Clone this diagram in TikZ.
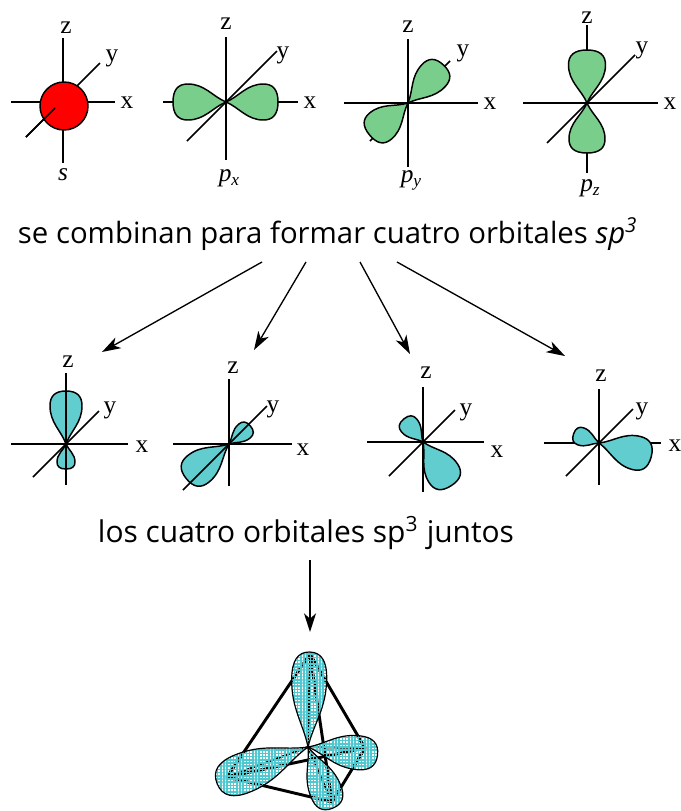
\documentclass[tikz,border=0pt]{standalone}
\usepackage{fontspec}
\usepackage{graphicx}
\setmainfont{Open Sans}
\newfontfamily\tnr{Liberation Serif}
\usetikzlibrary{arrows.meta,patterns.meta}

\definecolor{sred}{RGB}{255,0,0}
\definecolor{pgreen}{RGB}{122,206,140}
\definecolor{hcyan}{RGB}{98,205,207}
\definecolor{hatchcyan}{RGB}{80,200,208}

% one orbital lobe: style, origin x, origin y, direction angle (clockwise, y down), length, half width
\newcommand\orblobe[6]{%
  \filldraw[#1, shift={(#2,#3)}, rotate=-#4, xscale=#5, yscale=#6]
    (0,0) .. controls (0.25,0.3) and (0.4,1) .. (0.72,1)
          .. controls (0.9,1) and (1,0.7) .. (1,0)
          .. controls (1,-0.7) and (0.9,-1) .. (0.72,-1)
          .. controls (0.4,-1) and (0.25,-0.3) .. (0,0) -- cycle;}

\newcommand\subx[1]{\raisebox{-0.35ex}{\fontsize{13}{14}\selectfont #1}}

\begin{document}
\begin{tikzpicture}[x=0.75pt,y=-0.75pt,
  axis/.style={line width=1.1pt},
  lbl/.style={font=\tnr\fontsize{19}{20}\selectfont, inner sep=0pt},
  plobe/.style={fill=pgreen, draw=black, line width=1.1pt},
  hlobe/.style={fill=hcyan, draw=black, line width=1.1pt},
  tlobe/.style={
    preaction={pattern={Lines[angle=0,distance=2.4pt,line width=1.1pt]}, pattern color=hatchcyan},
    pattern={Lines[angle=90,distance=2.4pt,line width=1.1pt]}, pattern color=hatchcyan,
    draw=black, line width=0.9pt},
  tedge/.style={line width=2.2pt},
  tbond/.style={line width=1.5pt},
  flow/.style={line width=1pt, -{Stealth[length=14pt,width=9pt,inset=4pt]}},
  caption/.style={inner sep=0pt}]
\useasboundingbox (0,0) rectangle (681,811);

% ---------- s orbital ----------
\draw[axis] (63,38) -- (63,163);
\draw[axis] (11,102) -- (115,102);
\draw[axis] (26,137) -- (100,63);
\filldraw[fill=sred, line width=1.1pt] (64,106) circle (24);
\draw[axis] (26,137) -- (55,108);
\node[lbl] (sz) at (66,28) {z};
\node[lbl] (sy) at (112,58) {y};
\node[lbl] (sx) at (127,103) {x};
\node[lbl] (sname) at (63,175) {\itshape s};

% ---------- p_x orbital ----------
\draw[axis] (226,37) -- (226,160);
\draw[axis] (163,102) -- (298,102);
\orblobe{plobe}{226}{102}{0}{52}{18}
\orblobe{plobe}{226}{102}{180}{53}{18}
\draw[axis] (187,141) -- (277,51);
\node[lbl] (pxz) at (226,24) {z};
\node[lbl] (pxy) at (283,55) {y};
\node[lbl] (pxx) at (310,103) {x};
\node[lbl] (pxname) at (229,178) {\itshape p\subx{x}};

% ---------- p_y orbital ----------
\draw[axis] (408,39) -- (408,167);
\draw[axis] (344,103) -- (478,103);
\draw[axis] (370,141) -- (450,61);
\orblobe{plobe}{408}{103}{-47}{52}{16}
\orblobe{plobe}{408}{103}{140}{50}{17}
\node[lbl] (pyz) at (408,27) {z};
\node[lbl] (pyy) at (463,53) {y};
\node[lbl] (pyx) at (490,104) {x};
\node[lbl] (pyname) at (411,180) {\itshape p\subx{y}};

% ---------- p_z orbital ----------
\draw[axis] (587,25) -- (587,173);
\draw[axis] (523,103) -- (658,103);
\orblobe{plobe}{587}{103}{-90}{53}{18.5}
\orblobe{plobe}{587}{103}{90}{50}{18}
\draw[axis] (547,143) -- (635,55);
\node[lbl] (pzz) at (587,18) {z};
\node[lbl] (pzy) at (642,50) {y};
\node[lbl] (pzx) at (670,104) {x};
\node[lbl] (pzname) at (590,188) {\itshape p\subx{z}};

% ---------- caption and splitting arrows ----------
\node[caption] (combine) at (328,234)
  {\resizebox{465pt}{!}{se combinan para formar cuatro orbitales \textit{sp\textsuperscript{3}}}};
\coordinate (s1) at (262,262); \coordinate (e1) at (102,352);
\coordinate (s2) at (306,262); \coordinate (e2) at (254,350);
\coordinate (s3) at (360,262); \coordinate (e3) at (410,354);
\coordinate (s4) at (397,262); \coordinate (e4) at (565,356);
\draw[flow] (s1) -- (e1);
\draw[flow] (s2) -- (e2);
\draw[flow] (s3) -- (e3);
\draw[flow] (s4) -- (e4);

% ---------- sp3 hybrid 1 ----------
\orblobe{hlobe}{66}{444}{-90}{53}{16}
\orblobe{hlobe}{66}{444}{90}{25}{9}
\draw[axis] (66,373) -- (66,485);
\draw[axis] (11,444) -- (128,444);
\draw[axis] (33,477) -- (99,411);
\node[lbl] (h1z) at (68,362) {z};
\node[lbl] (h1y) at (110,410) {y};
\node[lbl] (h1x) at (142,447) {x};

% ---------- sp3 hybrid 2 ----------
\orblobe{hlobe}{229}{444}{-40}{28}{9}
\orblobe{hlobe}{229}{444}{141}{55}{17}
\draw[axis] (229,379) -- (229,486);
\draw[axis] (173,444) -- (292,444);
\draw[axis] (183,490) -- (267,406);
\node[lbl] (h2z) at (233,368) {z};
\node[lbl] (h2y) at (273,409) {y};
\node[lbl] (h2x) at (303,450) {x};

% ---------- sp3 hybrid 3 ----------
\draw[axis] (423,387) -- (423,492);
\draw[axis] (367,442) -- (484,442);
\draw[axis] (389,476) -- (455,410);
\orblobe{hlobe}{423}{442}{-130}{30}{10}
\orblobe{hlobe}{423}{442}{57}{52}{17}
\node[lbl] (h3z) at (426,373) {z};
\node[lbl] (h3y) at (466,412) {y};
\node[lbl] (h3x) at (497,452) {x};

% ---------- sp3 hybrid 4 ----------
\draw[axis] (599,389) -- (599,485);
\draw[axis] (544,443) -- (661,443);
\draw[axis] (566,476) -- (633,409);
\orblobe{hlobe}{599}{443}{-160}{27}{9}
\orblobe{hlobe}{599}{443}{15}{54}{17}
\node[lbl] (h4z) at (601,376) {z};
\node[lbl] (h4y) at (642,411) {y};
\node[lbl] (h4x) at (675,446) {x};

% ---------- second caption ----------
\node[caption] (together) at (306,533)
  {\resizebox{312pt}{!}{los cuatro orbitales sp\textsuperscript{3} juntos}};
\coordinate (s5) at (310,560); \coordinate (e5) at (310,632);
\draw[flow] (s5) -- (e5);

% ---------- tetrahedron with the four hybrids ----------
\coordinate (T) at (310,654);
\coordinate (L) at (227,777);
\coordinate (R) at (365,748);
\coordinate (B) at (332,802);
\coordinate (C) at (308,747);
\draw[tedge, line join=round] (T) -- (L) -- (B) -- (R) -- cycle;
\draw[tedge] (L) -- (R);
\draw[tedge] (T) -- (B);
\draw[tbond] (C) -- (T);
\draw[tbond] (C) -- (L);
\draw[tbond] (C) -- (R);
\draw[tbond] (C) -- (B);
\orblobe{tlobe}{308}{747}{-89}{95}{17.5}
\orblobe{tlobe}{308}{747}{158}{98}{20}
\orblobe{tlobe}{308}{747}{6.5}{70}{17}
\orblobe{tlobe}{308}{747}{68}{66}{16}
\end{tikzpicture}
\end{document}
